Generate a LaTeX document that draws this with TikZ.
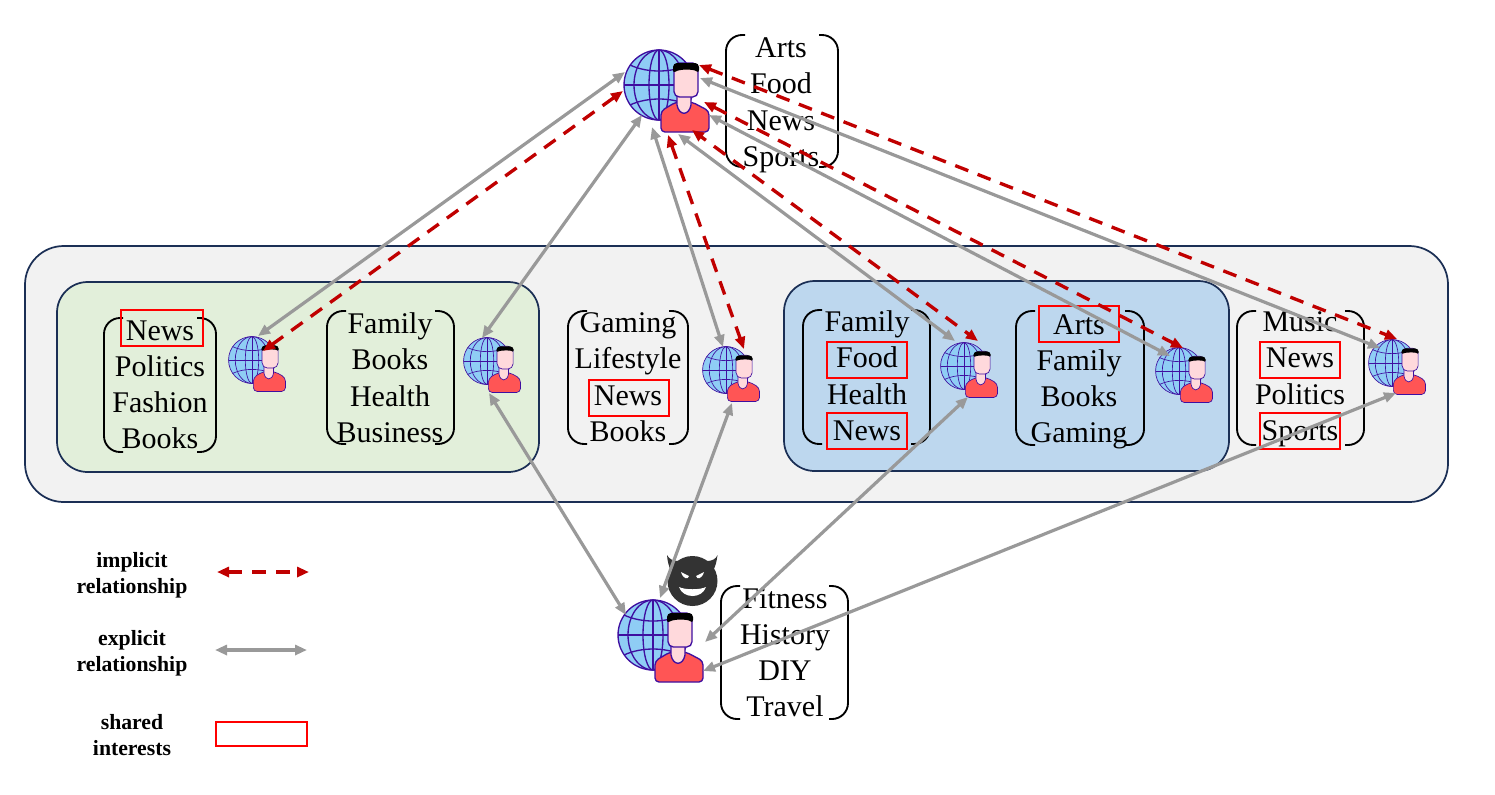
\documentclass[tikz,border=0pt]{standalone}
\usepackage{fontspec}
\setmainfont{Liberation Serif}
\usetikzlibrary{arrows.meta}

\definecolor{globeblue}{HTML}{8FCDF5}
\definecolor{iconline}{HTML}{3F0FA0}
\definecolor{skin}{HTML}{FFD9DC}
\definecolor{shirt}{HTML}{FF5555}
\definecolor{navyline}{HTML}{1B2F55}
\definecolor{implicitred}{HTML}{C00000}
\definecolor{explicitgray}{HTML}{999999}
\definecolor{groupgreen}{HTML}{E2EFDA}
\definecolor{groupblue}{HTML}{BDD7EE}
\definecolor{outergray}{HTML}{F2F2F2}

\tikzset{
	interest/.style={font=\fontsize{22.5}{22.5}\selectfont,inner sep=0pt,text height=20.4pt,text depth=5pt},
	sharedbox/.style={draw=red,line width=1.5pt,minimum width=60pt,minimum height=27pt,inner sep=0pt},
	legendtext/.style={font=\fontsize{16.3}{19.5}\selectfont\bfseries,align=center,inner sep=0pt},
	bracketline/.style={line width=1.4pt,rounded corners=12pt},
	panel/.style={draw=navyline,line width=1.3pt},
	explicit/.style={draw=explicitgray,line width=2.4pt,>={Triangle[length=9pt,width=7.5pt]},<->},
	implicit/.style={draw=implicitred,line width=2.5pt,dash pattern=on 10.5pt off 7.5pt,>={Triangle[length=9pt,width=7.5pt]},<->},
	pics/avatar/.style={code={
		\filldraw[fill=globeblue,draw=iconline] (0,0) circle (35);
		\draw[iconline] (0,-35)--(0,35) (-35,0)--(35,0);
		\draw[iconline] (0,0) ellipse [x radius=10,y radius=35];
		\draw[iconline] (0,0) ellipse [x radius=25,y radius=35];
		\draw[iconline] (-29,-20) .. controls (-12,-12) and (12,-12) .. (29,-20);
		\draw[iconline] (-29,20) .. controls (-12,12) and (12,12) .. (29,20);
		\filldraw[fill=shirt,draw=iconline,rounded corners=3pt] (2,47)--(2,26)--(17,17)--(33,17)--(50,26)--(50,47)--cycle;
		\filldraw[fill=skin,draw=iconline] (18,10)--(18,20) .. controls (20,31) and (30,31) .. (32,20)--(32,10)--cycle;
		\filldraw[fill=skin,draw=iconline,rounded corners=4pt] (15,-22) rectangle (39,12);
		\fill[black,rounded corners=3pt] (14,-11)--(14,-22)--(40,-22)--(40,-11) .. controls (35,-16) and (20,-16) .. (14,-11)--cycle;
	}}
}
\newcommand{\bracketbox}[4]{
	\draw[bracketline] (#1+19,#2)--(#1,#2)--(#1,#4)--(#1+19,#4);
	\draw[bracketline] (#3-19,#2)--(#3,#2)--(#3,#4)--(#3-19,#4);
}

\begin{document}
\begin{tikzpicture}[x=0.75pt,y=-0.75pt]
	\useasboundingbox (0,0) rectangle (1495,794);
	%panels
	\filldraw[panel,fill=outergray,rounded corners=29pt] (25,246) rectangle (1448,502);
	\filldraw[panel,fill=groupgreen,rounded corners=23pt] (57,282) rectangle (539,472);
	\filldraw[panel,fill=groupblue,rounded corners=23pt] (784,281) rectangle (1229,471);

	%interest lists
	\foreach \word [count=\i] in {Arts,Food,News,Sports}
		\node[interest] (hubword\i) at (781,{47+36.4*(\i-1)}) {\word};
	\foreach \word [count=\i] in {News,Politics,Fashion,Books}
		\node[interest] (onefirst\i) at (160,{330+36*(\i-1)}) {\word};
	\foreach \word [count=\i] in {Family,Books,Health,Business}
		\node[interest] (onesecond\i) at (390,{323+36.4*(\i-1)}) {\word};
	\foreach \word [count=\i] in {Gaming,Lifestyle,News,Books}
		\node[interest] (loner\i) at (628,{322+36.4*(\i-1)}) {\word};
	\foreach \word [count=\i] in {Family,Food,Health,News}
		\node[interest] (twofirst\i) at (867,{321+36.4*(\i-1)}) {\word};
	\foreach \word [count=\i] in {Arts,Family,Books,Gaming}
		\node[interest] (twosecond\i) at (1079,{324+36*(\i-1)}) {\word};
	\foreach \word [count=\i] in {Music,News,Politics,Sports}
		\node[interest] (last\i) at (1300,{321+36.4*(\i-1)}) {\word};
	\foreach \word [count=\i] in {Fitness,History,DIY,Travel}
		\node[interest] (attackerword\i) at (785,{598+36*(\i-1)}) {\word};

	\bracketbox{726}{35}{838}{167}
	\bracketbox{104}{318}{216}{452}
	\bracketbox{327}{311}{454}{444}
	\bracketbox{568}{311}{688}{444}
	\bracketbox{803}{310}{930}{444}
	\bracketbox{1016}{311}{1144}{445}
	\bracketbox{1237}{311}{1364}{445}
	\bracketbox{721}{586}{848}{719}

	%shared interests
	\node[sharedbox,minimum width=61.5pt] (sharedone) at (162,327.5) {};
	\node[sharedbox] (sharedloner) at (628.5,397.5) {};
	\node[sharedbox] (sharedfood) at (866.5,359.5) {};
	\node[sharedbox] (sharednews) at (866.5,430.5) {};
	\node[sharedbox] (sharedarts) at (1078.5,323.5) {};
	\node[sharedbox] (sharedlast) at (1300,359.5) {};
	\node[sharedbox] (sharedsports) at (1300,430.5) {};

	%users
	\pic[line width=1pt] (hub) at (659,85) {avatar};
	\pic[line width=1pt] (attacker) at (653,635) {avatar};
	\pic[scale=0.67,line width=0.5pt] (userA) at (252,360) {avatar};
	\pic[scale=0.67,line width=0.5pt] (userB) at (487,361) {avatar};
	\pic[scale=0.67,line width=0.5pt] (userC) at (726,370) {avatar};
	\pic[scale=0.67,line width=0.5pt] (userD) at (964,366) {avatar};
	\pic[scale=0.67,line width=0.5pt] (userE) at (1179,371) {avatar};
	\pic[scale=0.67,line width=0.5pt] (userF) at (1392,363) {avatar};

	%devil
	\fill[black!80] (692.5,581) circle (25);
	\fill[black!80] (667,555) .. controls (668,568) and (672,575) .. (680,577)--(678,561) .. controls (673,561) and (669,559) .. (667,555)--cycle;
	\fill[black!80] (717.5,555) .. controls (716,568) and (712,575) .. (705,577)--(707,561) .. controls (712,561) and (716,559) .. (717.5,555)--cycle;
	\fill[white] (681,572)--(689,576) .. controls (688,580) and (683,579) .. (681,572)--cycle;
	\fill[white] (704,572)--(696,576) .. controls (697,580) and (702,579) .. (704,572)--cycle;
	\fill[white] (679,587) .. controls (685,590) and (700,590) .. (706,587) .. controls (702,599) and (683,599) .. (679,587)--cycle;

	%connector ends
	\foreach \name/\x/\y in {hubA/625/72,hubB/642/115,hubC/652/127,hubD/678/134,hubE/709/115,hubF/700/78,
		hubRedA/623/91,hubRedC/668/135,hubRedD/692/130,hubRedE/704/102,hubRedF/699/65,
		userAend/258/336,userBend/482/338,userCend/723/347,userDend/955/341,userEend/1170/356,userFend/1380/348,
		userAred/263/351,userCred/744/349,userDred/978/341,userEred/1183/348,userFred/1397/339,
		userBlow/489/393,userClow/732/403,userDlow/968/397,userFlow/1396/393,
		attackerB/626/615,attackerC/660/598,attackerD/705/642,attackerF/703/671,
		legendA/217/572,legendB/309/572,legendC/215/650,legendD/307/650}
		\coordinate (\name) at (\x,\y);

	%explicit relationships
	\foreach \from/\to in {hubA/userAend,hubB/userBend,hubC/userCend,hubD/userDend,hubE/userEend,hubF/userFend,
		userBlow/attackerB,userClow/attackerC,userDlow/attackerD,userFlow/attackerF,legendC/legendD}
		\draw[explicit] (\from)--(\to);
	%implicit relationships
	\foreach \from/\to in {hubRedA/userAred,hubRedC/userCred,hubRedE/userEred,hubRedF/userFred,legendA/legendB}
		\draw[implicit] (\from)--(\to);
	\draw[implicit,dash phase=6pt] (hubRedD)--(userDred);

	%legend
	\node[legendtext] (legendimplicit) at (132,575.5) {implicit\\relationship};
	\node[legendtext] (legendexplicit) at (132,653.5) {explicit\\relationship};
	\node[legendtext] (legendshared) at (132,735) {shared\\interests};
	\node[sharedbox,line width=1.2pt,minimum width=68pt,minimum height=18pt] (legendbox) at (261.5,734) {};
\end{tikzpicture}
\end{document}
